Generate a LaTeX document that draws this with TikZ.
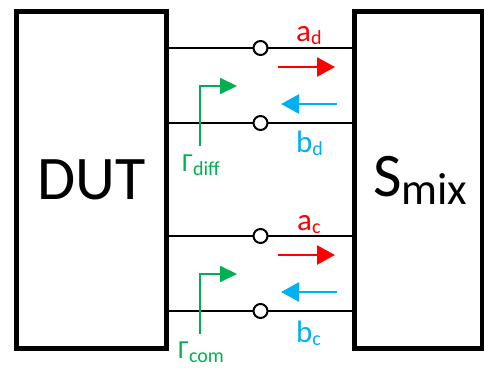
\documentclass[tikz,border=0pt]{standalone}
\usepackage{fontspec}
\setmainfont{Carlito}
\usepackage{tikz}
\usetikzlibrary{arrows.meta,calc,positioning}
\definecolor{wavered}{RGB}{255,0,0}
\definecolor{waveblue}{RGB}{0,176,240}
\definecolor{gammagreen}{RGB}{0,176,80}
\tikzset{
  block/.style={draw=black,line width=5pt,inner sep=0pt,
    font=\fontsize{62}{62}\selectfont},
  wire/.style={draw=black,line width=2pt},
  port/.style={circle,draw=black,line width=2pt,fill=white,
    minimum size=14pt,inner sep=0pt},
  incflow/.style={-{Triangle[length=18pt,width=19pt]},line width=2.6pt,draw=wavered},
  refflow/.style={-{Triangle[length=18pt,width=19pt]},line width=2.6pt,draw=waveblue},
  gamflow/.style={-{Triangle[length=17pt,width=16pt]},line width=2pt,draw=gammagreen},
  wavelab/.style={anchor=base west,inner sep=0pt,
    font=\fontsize{31}{31}\selectfont},
  gamlab/.style={anchor=base west,inner sep=0pt,text=gammagreen,
    font=\fontsize{26}{26}\selectfont}
}
\newcommand{\lowsub}[2]{\raisebox{-#1}{\fontsize{20}{20}\selectfont #2}}

\begin{document}
\begin{tikzpicture}[x=1pt,y=-1pt]
  \useasboundingbox (0,0) rectangle (484,367);
  \node[block,minimum width=150pt,minimum height=337pt] (dut) at (91.5,180) {DUT};
  \node[block,minimum width=127.5pt,minimum height=337pt] (smix) at (418.25,180)
    {\hspace{4pt}S{\fontsize{45}{45}\selectfont\raisebox{-8pt}{mix}}};
  % differential mode pair
  \draw[wire] (dut.east |- 0,48)--node[port] (ad) {}(smix.west |- 0,48);
  \draw[wire] (dut.east |- 0,123)--node[port] (bd) {}(smix.west |- 0,123);
  \draw[incflow] ([shift={(17.5pt,-19pt)}]ad.center)--([shift={(74.5pt,-19pt)}]ad.center);
  \draw[refflow] ([shift={(76.5pt,19pt)}]bd.center)--([shift={(20.5pt,19pt)}]bd.center);
  \draw[gamflow] ([shift={(-60.5pt,-23pt)}]bd.center) |- ([shift={(-23.5pt,37pt)}]bd.center);
  \node[wavelab,text=wavered] (adlab) at (296,41) {a\lowsub{3pt}{d}};
  \node[wavelab,text=waveblue] (bdlab) at (296,152) {b\lowsub{3pt}{d}};
  \node[gamlab] (gdiff) at (182,171) {Γ\lowsub{4pt}{diff}};
  % common mode pair
  \draw[wire] (dut.east |- 0,236)--node[port] (ac) {}(smix.west |- 0,236);
  \draw[wire] (dut.east |- 0,311)--node[port] (bc) {}(smix.west |- 0,311);
  \draw[incflow] ([shift={(17.5pt,-19pt)}]ac.center)--([shift={(74.5pt,-19pt)}]ac.center);
  \draw[refflow] ([shift={(76.5pt,19pt)}]bc.center)--([shift={(20.5pt,19pt)}]bc.center);
  \draw[gamflow] ([shift={(-60.5pt,-23pt)}]bc.center) |- ([shift={(-23.5pt,37pt)}]bc.center);
  \node[wavelab,text=wavered] (aclab) at (297,230) {a\lowsub{3pt}{c}};
  \node[wavelab,text=waveblue] (bclab) at (296,342) {b\lowsub{3pt}{c}};
  \node[gamlab] (gcom) at (178,358) {Γ\lowsub{4pt}{com}};
\end{tikzpicture}
\end{document}
